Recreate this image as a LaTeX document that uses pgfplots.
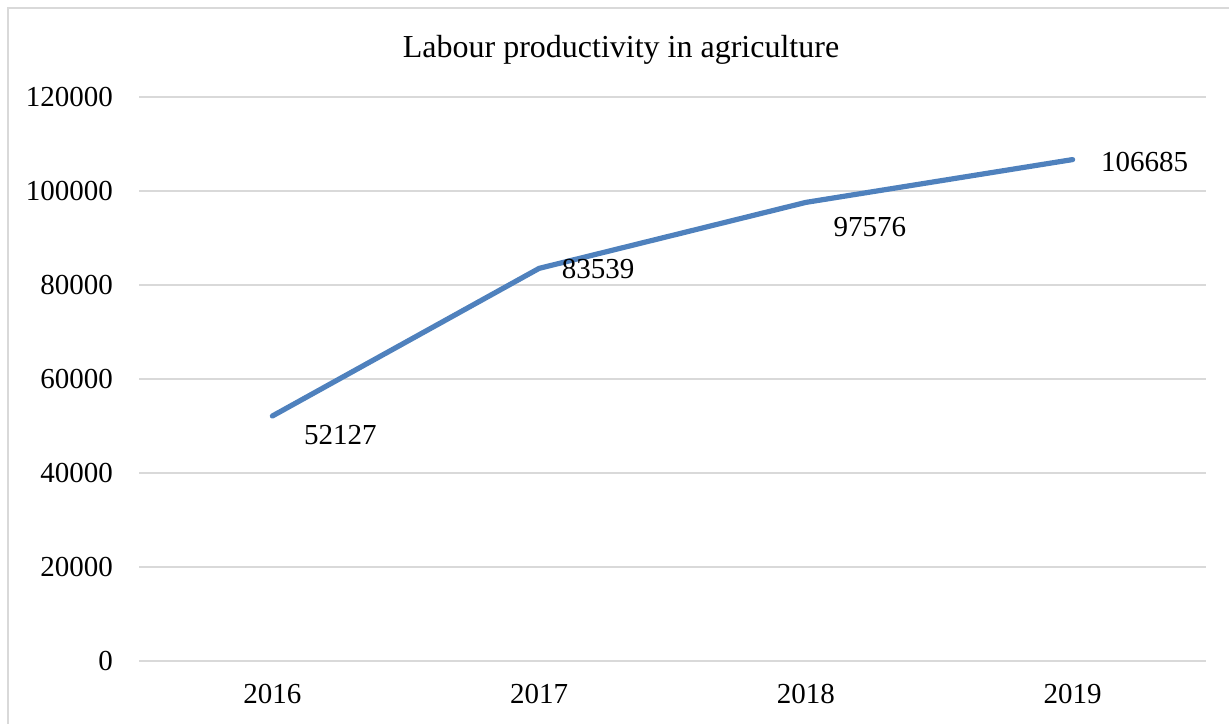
\documentclass[border=0pt]{standalone}
\usepackage{pgfplots}
\pgfplotsset{compat=1.18}
\usepackage{pgfplotstable}
\usepackage{fontspec}
\setmainfont{Liberation Serif}
\definecolor{lineblue}{RGB}{79,129,189}
\definecolor{gridgray}{RGB}{217,217,217}
\pgfplotstableread{
x y dx dy
0 52127 34 -9.5
1 83539 29.5 -0.5
2 97576 32 -12.3
3 106685 36 -1
}\datatable
\begin{document}
\begin{tikzpicture}
\path[use as bounding box] (0,0) rectangle (614.5bp,362bp);
\draw[gridgray, line width=1bp] (4bp,-1bp) -- (4bp,358.2bp) -- (615bp,358.2bp);
\node[font=\fontsize{16bp}{19bp}\selectfont] at (310.5bp,337bp) {Labour productivity in agriculture};
\begin{axis}[
  at={(69.5bp,31.5bp)}, anchor=south west,
  width=533.5bp, height=282bp, scale only axis,
  xmin=-0.5, xmax=3.5, ymin=0, ymax=120000,
  xtick=data, xticklabels={2016,2017,2018,2019},
  ytick={0,20000,...,120000},
  scaled y ticks=false,
  yticklabel style={/pgf/number format/fixed, /pgf/number format/1000 sep={}},
  /pgf/number format/assume math mode=true,
  tick label style={font=\fontsize{14.5bp}{17bp}\selectfont},
  xticklabel style={yshift=-8bp},
  yticklabel style={xshift=-9.5bp},
  axis line style={draw=none},
  axis x line*=bottom,
  major tick length=0pt,
  ymajorgrids, grid style={gridgray, line width=1bp},
  clip=false,
  nodes near coords,
  point meta=explicit symbolic,
  visualization depends on={\thisrow{dx} \as \dx},
  visualization depends on={\thisrow{dy} \as \dy},
  nodes near coords style={anchor=center, xshift=\dx bp, yshift=\dy bp, font=\fontsize{14.5bp}{17bp}\selectfont, text=black},
]
\addplot[lineblue, line width=2.6bp, line join=round, line cap=round] table[x=x, y=y, meta=y] {\datatable};
\end{axis}
\end{tikzpicture}
\end{document}
